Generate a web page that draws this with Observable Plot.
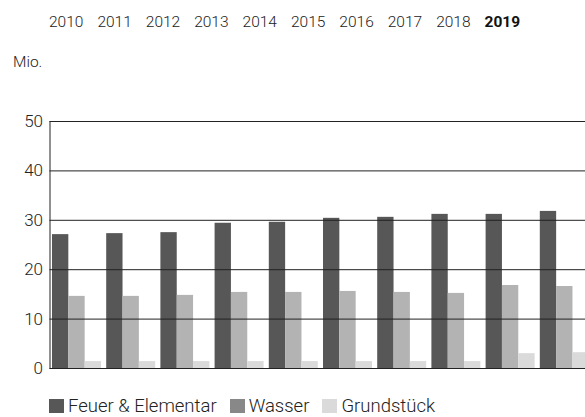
<!DOCTYPE html>
<html>
<head>
<meta charset="utf-8">
<script src="https://cdn.jsdelivr.net/npm/d3@7"></script>
<script src="https://cdn.jsdelivr.net/npm/@observablehq/plot@0.6"></script>
<style>
  html, body { margin: 0; padding: 0; background: #fff; overflow: hidden; }
  body { width: 585px; height: 417px; position: relative; font-family: Roboto, "Noto Sans", sans-serif; font-weight: 300; color: #333; }
  #years { position: absolute; top: 12px; left: 49px; display: flex; gap: 14px; font-size: 15.5px; line-height: 20px; color: #222; }
  #years span.sel { font-weight: bold; color: #111; }
  #unit { position: absolute; top: 52px; left: 13px; font-size: 15.5px; line-height: 20px; color: #222; }
  #chart { position: absolute; top: 90px; left: 0; }
  #legend { position: absolute; top: 397px; left: 49px; display: flex; font-size: 18.5px; line-height: 18px; color: #222; }
  #legend .item { display: flex; align-items: center; margin-right: 13px; }
  #legend .sw { width: 15px; height: 14px; margin-right: 4px; }
</style>
</head>
<body>
<div id="years"></div>
<div id="unit"></div>
<div id="chart"></div>
<div id="legend"></div>
<script>
const years = [2010, 2011, 2012, 2013, 2014, 2015, 2016, 2017, 2018, 2019];
const selectedYear = 2019;
const feuer  = [27.1, 27.3, 27.5, 29.4, 29.6, 30.4, 30.6, 31.2, 31.2, 31.8];
const wasser = [14.6, 14.6, 14.8, 15.4, 15.4, 15.6, 15.4, 15.2, 16.8, 16.6];
const grund  = [1.4, 1.4, 1.4, 1.4, 1.4, 1.4, 1.4, 1.4, 3.0, 3.2];
const series = ["Feuer & Elementar", "Wasser", "Grundstück"];
const barColors = ["#575757", "#b3b3b3", "#dadada"];
const legendColors = ["#575757", "#888888", "#dadada"];
const yTicks = [0, 10, 20, 30, 40, 50];
const unitLabel = "Mio.";

const values = [feuer, wasser, grund];
const data = years.flatMap((yr, i) => series.map((s, k) => ({year: yr, series: s, value: values[k][i]})));

// year tabs
const yd = document.getElementById("years");
years.forEach(y => {
  const sp = document.createElement("span");
  sp.textContent = y;
  if (y === selectedYear) sp.className = "sel";
  yd.appendChild(sp);
});
document.getElementById("unit").textContent = unitLabel;

const W = 585, ML = 49.5, MR = -6.3;
const padIn = 0.096, padOut = 0.046;
// bandwidth of the year band scale, used to split each band into three equal bars
const bw = d3.scaleBand().domain(years).range([ML, W - MR]).paddingInner(padIn).paddingOuter(padOut).bandwidth();
const third = bw / 3;

const chart = Plot.plot({
  width: W,
  height: 295,
  marginTop: 31,
  marginBottom: 17,
  marginLeft: ML,
  marginRight: MR,
  style: {fontFamily: "Roboto, sans-serif", fontSize: "17px", fontWeight: 300, color: "#222", background: "transparent"},
  x: {type: "band", domain: years, axis: null, paddingInner: padIn, paddingOuter: padOut, round: false},
  y: {domain: [0, 50], ticks: yTicks, tickSize: 0, tickPadding: 7, line: true, label: null},
  color: {domain: series, range: barColors},
  marks: [
    ...series.map((s, k) => Plot.barY(data.filter(d => d.series === s), {
      x: "year", y: "value", fill: "series",
      insetLeft: k * third, insetRight: (2 - k) * third
    })),
    Plot.ruleY(yTicks, {stroke: "#222"})
  ]
});
document.getElementById("chart").appendChild(chart);

const lg = document.getElementById("legend");
series.forEach((s, k) => {
  const it = document.createElement("div");
  it.className = "item";
  const sw = document.createElement("div");
  sw.className = "sw";
  sw.style.background = legendColors[k];
  const tx = document.createElement("span");
  tx.textContent = s;
  it.appendChild(sw); it.appendChild(tx);
  lg.appendChild(it);
});
</script>
</body>
</html>
